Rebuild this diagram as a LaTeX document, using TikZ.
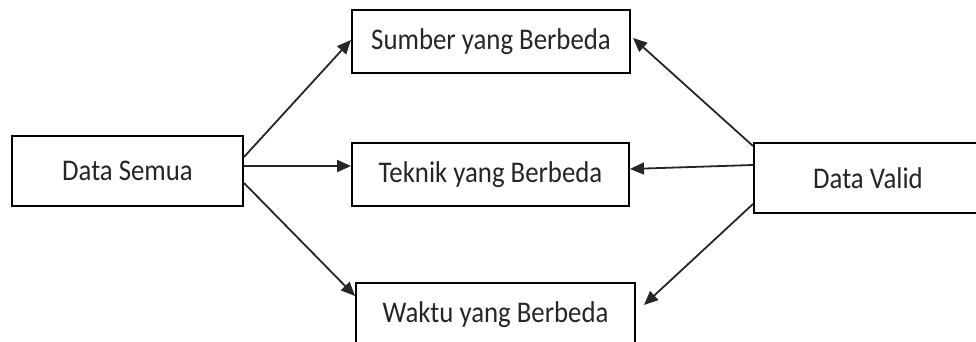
\documentclass[tikz,border=0pt]{standalone}
\usepackage{fontspec}
\setmainfont{Carlito}
\usetikzlibrary{arrows.meta}
\newcommand{\tallt}[1]{\scalebox{1}[1.12]{#1}}
\begin{document}
\begin{tikzpicture}[x=1pt,y=-1pt,
  box/.style={draw=black,line width=2pt,rectangle,inner sep=0pt,
    font=\fontsize{26.8}{30}\selectfont,text=black!85},
  conn/.style={draw=black!85,line width=1.8pt,-{Triangle[length=14pt,width=12pt]}}]
\useasboundingbox (0,0) rectangle (976,342);
\clip (0,0) rectangle (976,342);
\fill[white] (0,0) rectangle (976,342);
\node[box,minimum width=231pt,minimum height=70pt] (ds) at (127.5,171) {\tallt{Data Semua}};
\node[box,minimum width=278pt,minimum height=63pt] (sb) at (491,41.5) {\tallt{Sumber yang Berbeda}};
\node[box,minimum width=277pt,minimum height=63pt] (tk) at (490.5,174.5) {\tallt{Teknik yang Berbeda}};
\node[box,minimum width=279pt,minimum height=63pt] (wk) at (495.5,314.5) {\tallt{Waktu yang Berbeda}};
\node[box,minimum width=228pt,minimum height=70pt] (dv) at (868,178) {\tallt{Data Valid}};
\coordinate (wkend) at (644,305);
\draw[conn] ([yshift=14pt]ds.east) -- ([yshift=1.5pt]sb.west);
\draw[conn] ([yshift=5pt]ds.east) -- ([yshift=8.5pt]tk.west);
\draw[conn] ([yshift=-12pt]ds.east) -- ([yshift=-14pt]wk.north west);
\draw[conn] ([yshift=-4pt]dv.north west) -- ([xshift=2pt,yshift=3.5pt]sb.east);
\draw[conn] ([yshift=13pt]dv.west) -- ([yshift=5.5pt]tk.east);
\draw[conn] ([yshift=10pt]dv.south west) -- (wkend);
\end{tikzpicture}
\end{document}
